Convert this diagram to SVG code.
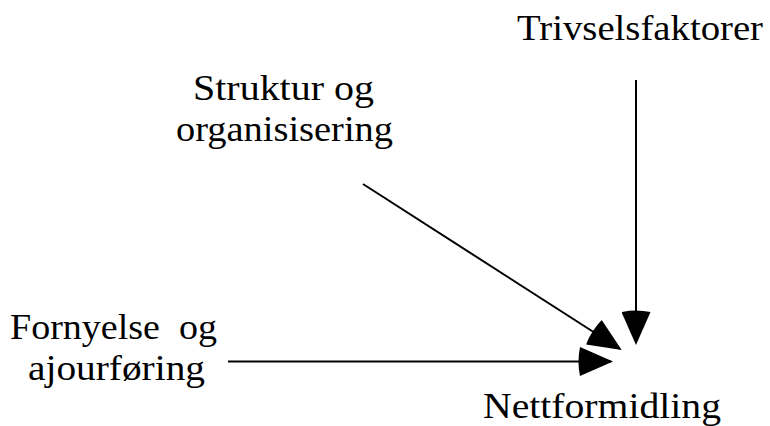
<svg xmlns="http://www.w3.org/2000/svg" width="770" height="426" viewBox="0 0 770 426">
<style>
text{font-family:"Liberation Serif","DejaVu Serif",serif;font-size:35px;fill:#000;white-space:pre}
.c line{stroke:#000;stroke-width:2;fill:none}
</style>
<defs>
<marker id="ah" markerUnits="userSpaceOnUse" viewBox="-3 0 36 29" refX="31" refY="14.5" markerWidth="36" markerHeight="29" orient="auto">
<path d="M0,0 L33,14.5 L0,29 Q-3,14.5 0,0 Z" fill="#000"/>
</marker>
</defs>
<rect width="770" height="426" fill="#fff"/>
<g id="trivsel"><text x="517" y="40" textLength="246" lengthAdjust="spacingAndGlyphs">Trivselsfaktorer</text></g>
<g id="struktur"><text x="193" y="100" textLength="181" lengthAdjust="spacingAndGlyphs">Struktur og</text><text x="176" y="141" textLength="217" lengthAdjust="spacingAndGlyphs">organisisering</text></g>
<g id="fornyelse"><text x="10" y="339" textLength="207" lengthAdjust="spacingAndGlyphs">Fornyelse  og</text><text x="28" y="380" textLength="177" lengthAdjust="spacingAndGlyphs">ajourføring</text></g>
<g id="nettformidling"><text x="483" y="418" textLength="238" lengthAdjust="spacingAndGlyphs">Nettformidling</text></g>
<g id="connectors" class="c">
<line x1="636" y1="80" x2="636" y2="343" marker-end="url(#ah)"/>
<line x1="363" y1="184" x2="620" y2="349" marker-end="url(#ah)"/>
<line x1="228" y1="361.5" x2="611" y2="361.5" marker-end="url(#ah)"/>
</g>
</svg>
